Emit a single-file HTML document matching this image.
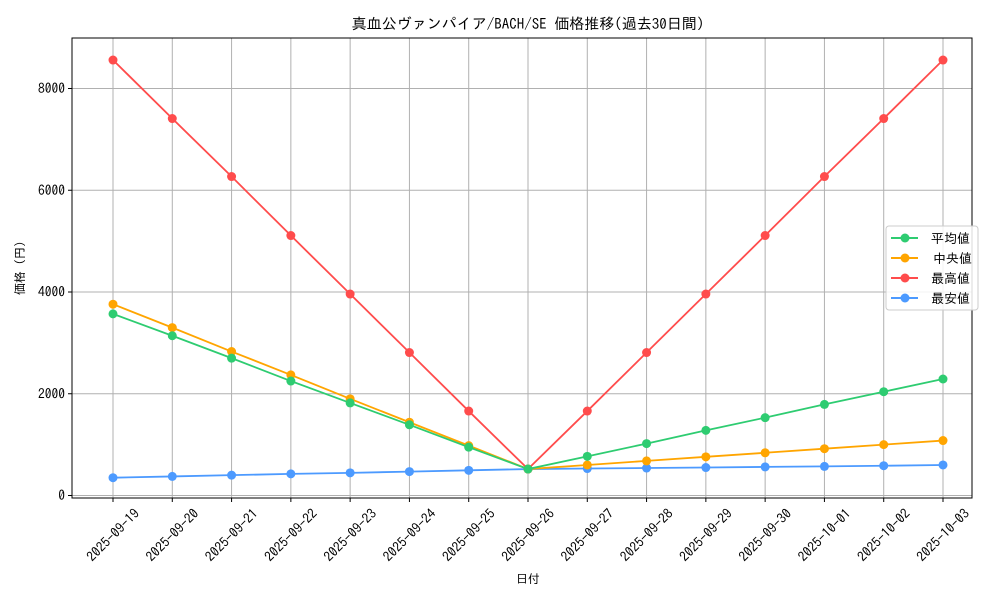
<!DOCTYPE html>
<html><head><meta charset="utf-8"><style>
body{margin:0;background:#fff}
svg text{font-family:"IPAGothic","Noto Sans CJK JP",monospace;fill:#000}
</style></head><body>
<svg id="s" width="1000" height="600" xmlns="http://www.w3.org/2000/svg">
<rect width="1000" height="600" fill="#fff"/>
<text x="528" y="29" font-size="15" text-anchor="middle">真血公ヴァンパイア/BACH/SE 価格推移(過去30日間)</text>
<g id="grid"></g>
<g id="series"></g>
<rect x="72" y="38" width="900" height="460" fill="none" stroke="#000" stroke-width="1"/>
<g id="ticks"></g>
<text x="528" y="583" font-size="12" text-anchor="middle">日付</text>
<text transform="translate(24,268) rotate(-90)" font-size="12" text-anchor="middle">価格 (円)</text>
<g>
<rect x="886" y="226" width="92" height="84" rx="3" fill="#fff" fill-opacity="0.85" stroke="#ccc"/>
<line x1="891" y1="238" x2="918" y2="238" stroke="#2ecc71" stroke-width="2"/><circle cx="905" cy="238" r="4.5" fill="#2ecc71"/><text x="931" y="243" font-size="13">平均値</text>
<line x1="891" y1="258" x2="918" y2="258" stroke="#ffa500" stroke-width="2"/><circle cx="905" cy="258" r="4.5" fill="#ffa500"/><text x="933" y="263" font-size="13">中央値</text>
<line x1="891" y1="278" x2="918" y2="278" stroke="#ff4c4c" stroke-width="2"/><circle cx="905" cy="278" r="4.5" fill="#ff4c4c"/><text x="931" y="283" font-size="13">最高値</text>
<line x1="891" y1="298" x2="918" y2="298" stroke="#4c9aff" stroke-width="2"/><circle cx="905" cy="298" r="4.5" fill="#4c9aff"/><text x="931" y="303" font-size="13">最安値</text>
</g>
</svg>
<script>
const NS="http://www.w3.org/2000/svg";
function el(p,t,a,txt){const e=document.createElementNS(NS,t);for(const k in a)e.setAttribute(k,a[k]);if(txt!==undefined)e.textContent=txt;p.appendChild(e);return e;}
const X=i=>113+i*59.2857, Y=v=>495.5-v*0.050875;
const g=document.getElementById('grid'),t=document.getElementById('ticks'),s=document.getElementById('series');
const dates=["2025-09-19","2025-09-20","2025-09-21","2025-09-22","2025-09-23","2025-09-24","2025-09-25","2025-09-26","2025-09-27","2025-09-28","2025-09-29","2025-09-30","2025-10-01","2025-10-02","2025-10-03"];
dates.forEach((d,i)=>{const x=X(i);el(g,'line',{x1:x,y1:38,x2:x,y2:498,stroke:'#b0b0b0','stroke-width':1});
el(t,'line',{x1:x,y1:498,x2:x,y2:502,stroke:'#000'});
el(t,'text',{x:0,y:0,dy:'0.35em','font-size':13.5,'text-anchor':'middle',transform:`translate(${x},${535}) rotate(-45)`},d);});
[0,2000,4000,6000,8000].forEach(v=>{const y=Y(v);el(g,'line',{x1:72,y1:y,x2:972,y2:y,stroke:'#b0b0b0','stroke-width':1});
el(t,'line',{x1:68,y1:y,x2:72,y2:y,stroke:'#000'});el(t,'text',{x:65,y:y+4.5,'font-size':13.5,'text-anchor':'end'},v);});
const data=[
['#4c9aff',[350,375,400,425,445,470,495,520,530,540,550,562,572,585,600]],
['#ff4c4c',[8560,7410,6270,5110,3960,2810,1660,520,1660,2810,3960,5110,6270,7410,8560]],
['#ffa500',[3760,3300,2830,2370,1900,1440,980,520,600,680,760,840,920,1000,1080]],
['#2ecc71',[3570,3140,2700,2250,1820,1390,950,520,770,1020,1280,1530,1790,2040,2290]]];
data.forEach(([c,v])=>{el(s,'polyline',{points:v.map((y,i)=>X(i)+','+Y(y)).join(' '),fill:'none',stroke:c,'stroke-width':1.8});
v.forEach((y,i)=>el(s,'circle',{cx:X(i),cy:Y(y),r:4.5,fill:c}));});
</script>
</body></html>
